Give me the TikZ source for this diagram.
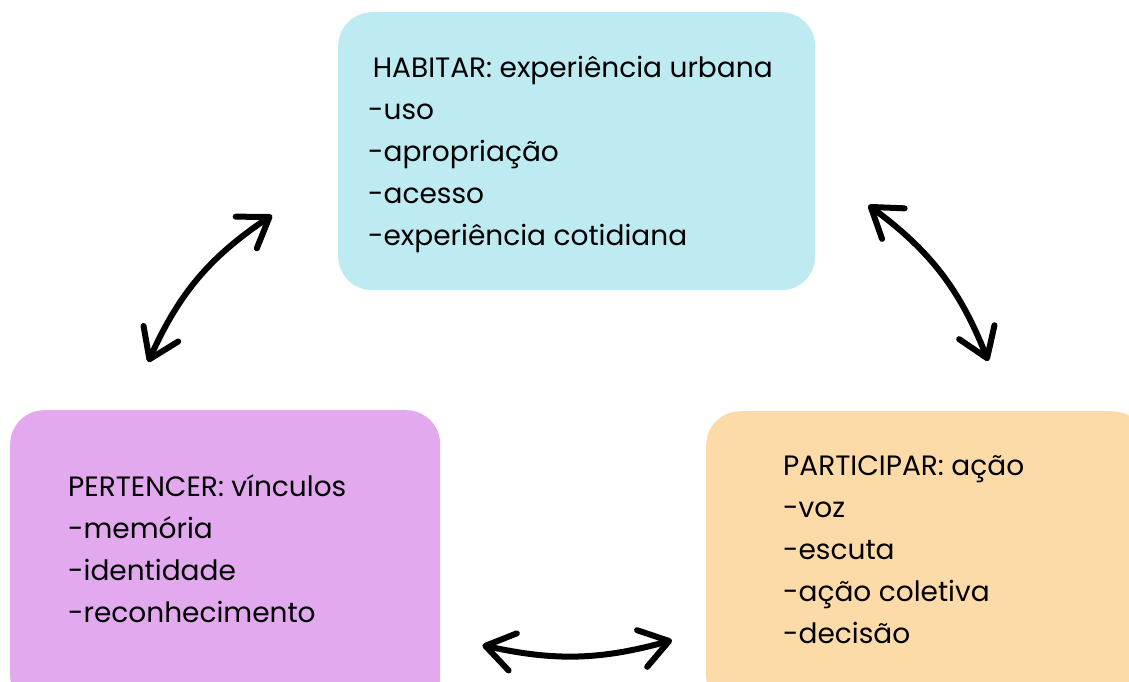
\documentclass[tikz,border=0pt]{standalone}
\usepackage{fontspec}
\setmainfont{Poppins}
\usetikzlibrary{arrows.meta,positioning}
\definecolor{habitarblue}{HTML}{BEEAF2}
\definecolor{pertencerlilac}{HTML}{E2A9EF}
\definecolor{participarpeach}{HTML}{FDDBA8}
\begin{document}
\begin{tikzpicture}[x=1pt,y=-1pt,
    box/.style={rounded corners=34pt, inner sep=0pt, anchor=north west},
    listtext/.style={font=\fontsize{28}{42}\selectfont, align=left, inner sep=0pt},
    twoway/.style={line width=6pt, line cap=round,
      {Straight Barb[length=28pt,width=38pt,round]}-{Straight Barb[length=28pt,width=38pt,round]}}]
    \useasboundingbox (0,0) rectangle (1129,682);
    \clip (0,0) rectangle (1129,682);
    % boxes
    \node[box, fill=habitarblue, minimum width=477pt, minimum height=278pt] (habitar) at (338,12) {};
    \node[box, fill=pertencerlilac, minimum width=430pt, minimum height=300pt] (pertencer) at (10,410) {};
    \node[box, fill=participarpeach, minimum width=440pt, minimum height=300pt] (participar) at (706,411) {};
    % texts
    \node[listtext, below right=44pt and 30pt of habitar.north west] (habitartext)
      {\,HABITAR: experiência urbana\\-uso\\-apropriação\\-acesso\\-experiência cotidiana};
    \node[listtext, below right=64pt and 58pt of pertencer.north west] (pertencertext)
      {PERTENCER: vínculos\\-memória\\-identidade\\-reconhecimento};
    \node[listtext, below right=44pt and 77pt of participar.north west] (participartext)
      {PARTICIPAR: ação\\-voz\\-escuta\\-ação coletiva\\-decisão};
    % arrows
    \draw[twoway] ([shift={(-77,-48)}]pertencer.north) to[bend left=16] ([shift={(-66,64)}]habitar.west);
    \draw[twoway] ([shift={(53,54)}]habitar.east) to[bend left=16] ([shift={(62,-50)}]participar.north);
    \draw[twoway] ([shift={(42,85)}]pertencer.east) to[bend right=14] ([shift={(-34,79)}]participar.west);
\end{tikzpicture}
\end{document}
